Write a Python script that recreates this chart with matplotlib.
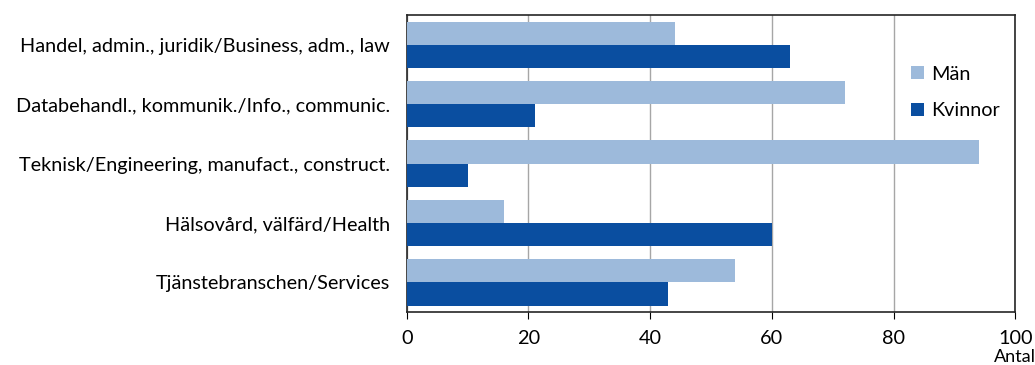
import numpy as np
import matplotlib.pyplot as plt

plt.rcParams['font.family'] = ['Lato', 'DejaVu Sans']

# categories top to bottom
categories = ['Handel, admin., juridik/Business, adm., law',
              'Databehandl., kommunik./Info., communic.',
              'Teknisk/Engineering, manufact., construct.',
              'Hälsovård, välfärd/Health',
              'Tjänstebranschen/Services']
man = [44, 72, 94, 16, 54]
kvinnor = [63, 21, 10, 60, 43]

col_man = '#9dbadb'
col_kv = '#0a4ea0'

fig = plt.figure(figsize=(10.35, 3.65), dpi=100)
ax = fig.add_axes([0.393, 0.145, 0.588, 0.814])

y = np.arange(len(categories))
h = 0.39
ax.barh(y - h / 2, man, height=h, color=col_man, label='Män', zorder=3)
ax.barh(y + h / 2, kvinnor, height=h, color=col_kv, label='Kvinnor', zorder=3)

ax.set_ylim(len(categories) - 0.5, -0.5)
ax.set_xlim(0, 100)
ax.set_xticks([0, 20, 40, 60, 80, 100])
ax.set_yticks(y)
ax.set_yticklabels(categories, fontsize=14.3)
ax.tick_params(axis='x', labelsize=14.3, direction='out', length=5, pad=8)
ax.tick_params(axis='y', length=0, pad=12)
ax.grid(axis='x', color='#a6a6a6', linewidth=1, zorder=0)
for s in ax.spines.values():
    s.set_color('#262626')
    s.set_linewidth(1.2)

ax.text(1.0, -0.125, 'Antal', transform=ax.transAxes, ha='center', va='top', fontsize=13)

ax.legend(loc='upper left', bbox_to_anchor=(0.8, 0.89), frameon=False, fontsize=14.3,
          handlelength=0.65, handleheight=0.65, labelspacing=1.0, handletextpad=0.35)

fig.savefig('out.png', dpi=100)
